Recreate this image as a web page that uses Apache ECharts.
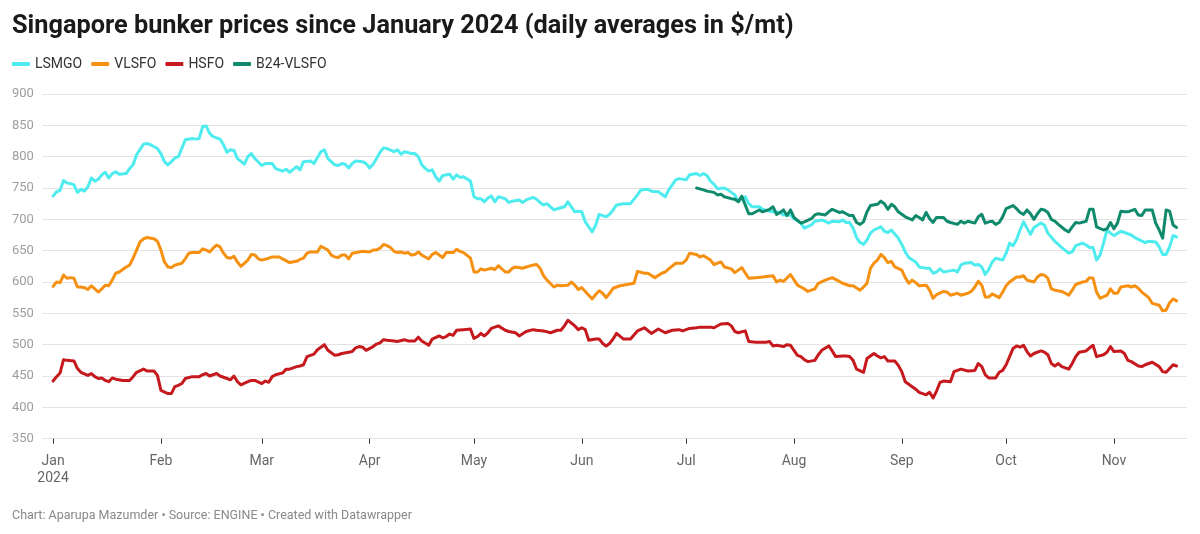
<!DOCTYPE html>
<html>
<head>
<meta charset="utf-8">
<script src="https://cdn.jsdelivr.net/npm/echarts@6/dist/echarts.min.js"></script>
<style>
html,body{margin:0;padding:0;background:#fff;}
#chart{width:1200px;height:534px;}
</style>
</head>
<body>
<div id="chart"></div>
<script>
// x values are days counted from 1 January 2024 (day 0)
const monthLabels = ["Jan","Feb","Mar","Apr","May","Jun","Jul","Aug","Sep","Oct","Nov"];
const monthStartDays = [0,31,60,91,121,152,182,213,244,274,305];
const seriesNames = ["LSMGO","VLSFO","HSFO","B24-VLSFO"];

const LSMGO = [[0,737],[1,744],[2,746],[3,762],[4,758],[5,757],[6,755],[7,743],[8,748],[9,745],[10,752],[11,766],[12,761],[13,764],[14,771],[15,775],[16,766],[17,773],[18,776],[19,772],[21,773],[22,781],[23,787],[24,803],[26,820],[27,821],[28,819],[30,813],[31,805],[32,792],[33,787],[34,792],[35,798],[36,800],[37,813],[38,827],[40,829],[41,828],[42,829],[43,848],[44,849],[45,837],[46,832],[48,828],[49,819],[50,807],[51,811],[52,810],[53,797],[55,788],[56,800],[57,805],[58,797],[60,786],[61,789],[63,789],[64,781],[66,777],[67,780],[68,775],[70,784],[71,779],[72,792],[74,793],[75,789],[77,808],[78,811],[79,797],[81,787],[82,786],[83,789],[84,788],[85,782],[86,789],[87,793],[89,792],[90,789],[91,782],[92,788],[93,797],[94,807],[95,814],[96,813],[98,808],[99,811],[100,804],[101,808],[103,805],[104,805],[105,800],[106,787],[107,781],[108,777],[109,779],[110,768],[111,761],[112,770],[114,772],[115,764],[116,771],[117,767],[118,768],[120,761],[121,736],[122,733],[123,733],[124,728],[125,734],[126,737],[127,728],[128,736],[130,733],[131,727],[132,729],[134,731],[135,727],[136,731],[138,735],[139,732],[140,727],[141,723],[142,725],[143,720],[144,715],[145,717],[147,720],[148,728],[149,720],[150,712],[151,713],[152,712],[153,696],[155,680],[156,691],[157,708],[159,704],[160,708],[161,715],[162,723],[164,725],[166,725],[168,739],[169,747],[171,748],[172,745],[174,744],[176,736],[177,747],[179,763],[180,765],[182,763],[183,771],[185,773],[186,770],[187,773],[188,770],[189,761],[190,756],[191,749],[193,750],[194,747],[196,739],[197,729],[199,736],[200,725],[201,720],[203,720],[204,716],[206,713],[207,712],[209,711],[210,707],[212,707],[213,701],[215,694],[216,686],[218,691],[219,697],[221,699],[222,697],[223,694],[224,697],[226,696],[227,699],[228,695],[229,695],[230,686],[231,671],[232,663],[233,660],[234,667],[235,678],[236,683],[238,688],[239,681],[240,679],[241,683],[243,670],[244,660],[245,648],[246,639],[248,632],[249,624],[251,622],[252,622],[253,614],[254,616],[255,621],[256,616],[257,617],[259,619],[260,616],[261,627],[262,630],[264,631],[265,627],[266,628],[267,624],[268,612],[269,620],[270,632],[271,638],[273,635],[274,646],[275,662],[276,658],[277,668],[278,683],[279,696],[280,686],[281,676],[282,687],[284,694],[285,691],[286,678],[288,665],[289,660],[290,655],[292,646],[293,648],[294,658],[296,662],[297,659],[298,655],[299,655],[300,635],[301,643],[302,662],[303,683],[304,678],[305,674],[307,681],[308,679],[310,675],[311,671],[312,668],[314,663],[315,665],[317,664],[318,656],[319,644],[320,644],[321,656],[322,674],[323,672]];

const VLSFO = [[0,593],[1,600],[2,599],[3,611],[4,606],[5,607],[6,606],[7,592],[8,592],[9,591],[10,588],[11,594],[12,589],[13,584],[14,589],[15,595],[16,594],[17,603],[18,614],[19,616],[21,624],[22,627],[23,638],[24,651],[25,664],[26,669],[27,671],[29,669],[30,665],[31,651],[32,632],[33,624],[34,623],[35,627],[37,630],[38,637],[39,646],[40,647],[42,647],[43,653],[44,651],[45,648],[46,654],[47,659],[48,656],[49,646],[50,639],[51,638],[52,641],[53,632],[54,625],[56,635],[57,644],[58,643],[59,637],[60,635],[62,638],[63,640],[65,640],[66,637],[68,631],[70,633],[71,636],[72,638],[73,646],[74,648],[76,648],[77,657],[79,651],[80,643],[81,640],[82,639],[83,643],[84,643],[85,637],[86,646],[88,648],[89,649],[91,648],[92,651],[93,651],[94,654],[95,660],[96,658],[97,655],[98,649],[99,647],[100,648],[101,646],[102,647],[103,643],[104,644],[105,648],[106,643],[107,640],[108,637],[109,644],[110,647],[112,639],[113,647],[115,647],[116,652],[117,649],[118,647],[120,638],[121,616],[122,616],[123,621],[124,619],[126,622],[127,620],[128,626],[130,616],[131,616],[132,622],[133,624],[135,622],[136,624],[138,627],[139,628],[140,622],[141,610],[142,603],[144,592],[145,595],[146,594],[148,595],[149,600],[150,595],[151,588],[152,591],[153,585],[155,573],[156,580],[157,586],[158,582],[159,575],[160,582],[161,590],[162,592],[163,594],[165,596],[167,598],[168,617],[170,614],[171,614],[173,607],[175,614],[176,616],[177,621],[179,630],[181,630],[182,635],[183,646],[185,644],[186,640],[187,642],[189,635],[190,628],[192,632],[193,624],[195,621],[196,615],[198,623],[200,606],[202,607],[204,608],[207,610],[208,600],[209,603],[210,601],[212,612],[214,595],[215,592],[216,589],[217,585],[219,589],[220,598],[222,603],[223,605],[224,607],[226,601],[227,598],[229,594],[230,594],[232,587],[233,592],[234,598],[235,622],[236,630],[237,635],[238,644],[239,639],[240,631],[241,633],[242,624],[244,619],[245,607],[246,598],[247,603],[248,599],[249,594],[251,595],[252,587],[253,574],[254,580],[256,585],[257,584],[258,579],[260,582],[261,579],[263,582],[264,585],[265,592],[266,601],[267,595],[268,576],[269,576],[270,581],[272,575],[273,584],[274,594],[275,600],[277,608],[278,608],[279,610],[280,603],[282,600],[283,608],[284,612],[285,611],[286,606],[287,589],[288,587],[290,585],[291,582],[292,579],[293,587],[294,596],[296,600],[297,601],[298,607],[299,606],[300,584],[301,574],[303,579],[304,589],[305,582],[306,582],[307,592],[309,594],[310,592],[311,594],[312,590],[313,584],[315,575],[316,566],[318,563],[319,554],[320,555],[321,567],[322,573],[323,570]];

const HSFO = [[0,442],[1,449],[2,455],[3,476],[4,475],[6,474],[7,462],[8,456],[10,451],[11,454],[12,449],[13,446],[14,447],[15,443],[16,441],[17,447],[18,445],[20,443],[22,443],[23,449],[24,456],[26,461],[27,458],[29,458],[30,451],[31,427],[33,422],[34,422],[35,433],[36,435],[37,438],[38,446],[40,449],[41,449],[42,449],[43,452],[44,454],[45,450],[46,452],[47,454],[48,450],[50,446],[51,444],[52,450],[53,441],[54,436],[56,441],[57,443],[58,443],[60,438],[61,442],[62,440],[63,449],[64,452],[66,455],[67,461],[68,461],[70,465],[71,466],[72,468],[73,481],[75,485],[76,492],[78,500],[79,491],[81,483],[82,484],[83,486],[85,488],[86,489],[87,495],[88,497],[89,496],[90,491],[92,497],[93,501],[94,503],[95,508],[96,507],[98,506],[99,505],[101,508],[102,506],[104,506],[105,512],[106,506],[108,499],[109,509],[111,514],[112,511],[113,513],[114,517],[115,515],[116,523],[118,524],[120,525],[121,510],[122,513],[123,518],[124,514],[125,519],[126,526],[128,530],[130,523],[131,521],[133,519],[134,514],[136,521],[138,524],[139,523],[141,522],[143,519],[145,523],[146,523],[147,530],[148,539],[150,530],[151,524],[152,527],[153,524],[154,507],[156,509],[157,509],[158,502],[159,498],[160,502],[161,509],[162,518],[164,509],[166,509],[168,522],[170,527],[172,518],[174,525],[176,519],[178,523],[180,524],[181,522],[183,526],[185,527],[186,528],[189,528],[190,527],[192,533],[194,534],[195,530],[196,521],[197,519],[199,522],[200,505],[202,504],[205,504],[206,505],[207,498],[208,499],[210,497],[211,500],[212,499],[214,483],[215,481],[216,476],[217,473],[219,475],[220,484],[221,491],[223,498],[224,490],[225,481],[227,482],[228,482],[229,481],[230,475],[231,461],[233,456],[234,478],[236,486],[237,482],[238,479],[239,481],[240,474],[242,474],[243,467],[244,457],[245,441],[247,433],[248,429],[249,424],[251,420],[252,424],[253,415],[254,426],[255,440],[256,442],[258,441],[259,457],[261,461],[263,458],[265,459],[266,470],[267,465],[268,452],[269,447],[271,447],[272,456],[273,459],[274,468],[275,481],[276,494],[277,498],[278,496],[279,499],[280,489],[281,482],[282,486],[284,490],[285,488],[286,484],[287,470],[288,466],[289,470],[290,465],[292,461],[293,470],[294,481],[295,488],[297,490],[298,495],[299,499],[300,481],[302,484],[303,488],[304,497],[305,489],[307,490],[308,486],[309,475],[310,473],[312,466],[313,465],[314,468],[316,472],[318,465],[319,457],[320,456],[321,462],[322,468],[323,466]];

const B24_VLSFO = [[185,750],[187,747],[188,745],[190,743],[191,739],[192,740],[193,736],[195,733],[196,732],[197,728],[198,737],[199,723],[200,709],[201,709],[203,715],[204,712],[206,716],[207,720],[208,708],[209,711],[210,715],[211,706],[212,715],[213,703],[215,694],[216,696],[218,701],[219,707],[220,709],[222,707],[223,712],[224,716],[226,711],[227,712],[228,709],[229,706],[230,706],[231,695],[232,692],[233,696],[234,712],[235,722],[237,724],[238,729],[239,725],[240,716],[241,724],[242,720],[243,712],[244,708],[245,704],[247,699],[248,706],[249,703],[250,699],[251,711],[252,701],[253,695],[254,703],[256,703],[257,697],[258,695],[260,692],[261,697],[262,694],[263,697],[265,694],[266,704],[267,708],[268,694],[269,696],[270,697],[271,692],[272,695],[273,704],[274,717],[276,722],[277,717],[278,711],[279,708],[280,715],[281,709],[282,700],[283,709],[284,716],[285,715],[286,711],[287,700],[288,697],[289,692],[291,683],[292,680],[293,688],[294,695],[295,694],[297,697],[298,716],[299,716],[300,688],[302,683],[303,685],[304,695],[305,685],[306,694],[307,713],[308,712],[309,712],[311,716],[312,707],[313,706],[314,715],[316,715],[317,694],[318,683],[319,670],[320,715],[321,713],[322,691],[323,687]];

const yTicks = [350,400,450,500,550,600,650,700,750,800,850,900];

const colors = ["#4fecef", "#f59011", "#c5191e", "#108a6c"];
const seriesData = [LSMGO, VLSFO, HSFO, B24_VLSFO];

const chart = echarts.init(document.getElementById('chart'), null, {renderer: 'canvas'});
chart.setOption({
  animation: false,
  backgroundColor: '#ffffff',
  title: {
    text: 'Singapore bunker prices since January 2024 (daily averages in $/mt)',
    left: 12, top: 12, padding: 0,
    textStyle: {fontFamily: 'Roboto', fontWeight: 'bold', fontSize: 25.3, color: '#1a1a1a', lineHeight: 30}
  },
  legend: {
    left: 12, top: 56, padding: 0,
    icon: 'roundRect', itemWidth: 18, itemHeight: 4, itemGap: 9,
    data: seriesNames,
    textStyle: {fontFamily: 'Roboto', fontSize: 14, color: '#333', lineHeight: 16}
  },
  grid: {left: 42, right: 13, top: 94, bottom: 95.3, containLabel: false},
  xAxis: {
    type: 'value',
    min: -3.19,
    max: 326,
    axisLine: {show: false},
    axisTick: {show: true, length: 5, customValues: monthStartDays, lineStyle: {color: '#333', width: 1}},
    axisLabel: {
      customValues: monthStartDays,
      margin: 14,
      fontFamily: 'Roboto', fontSize: 14, lineHeight: 17, color: '#666',
      formatter: function (v) {
        const i = monthStartDays.indexOf(Math.round(v));
        if (i < 0) return '';
        return i === 0 ? monthLabels[i] + '\n2024' : monthLabels[i];
      }
    },
    splitLine: {show: false}
  },
  yAxis: {
    type: 'value', min: 350, max: 900, interval: 50,
    axisLine: {show: false}, axisTick: {show: false},
    axisLabel: {
      align: 'left', margin: 30, fontFamily: 'Roboto', fontSize: 13, color: '#9e9e9e',
      formatter: function (v) { return yTicks.indexOf(v) >= 0 ? String(v) : ''; }
    },
    splitLine: {lineStyle: {color: '#e3e3e3', width: 1}}
  },
  graphic: [{
    type: 'text', left: 12, top: 509,
    style: {text: 'Chart: Aparupa Mazumder • Source: ENGINE • Created with Datawrapper', font: '12.5px Roboto', fill: '#888'}
  }],
  series: seriesNames.map((name, i) => ({
    name: name, type: 'line', data: seriesData[i],
    showSymbol: false, symbol: 'none', smooth: false,
    lineStyle: {color: colors[i], width: 3, cap: 'round', join: 'round'},
    itemStyle: {color: colors[i]},
    z: 2 + i
  }))
});
</script>
</body>
</html>
